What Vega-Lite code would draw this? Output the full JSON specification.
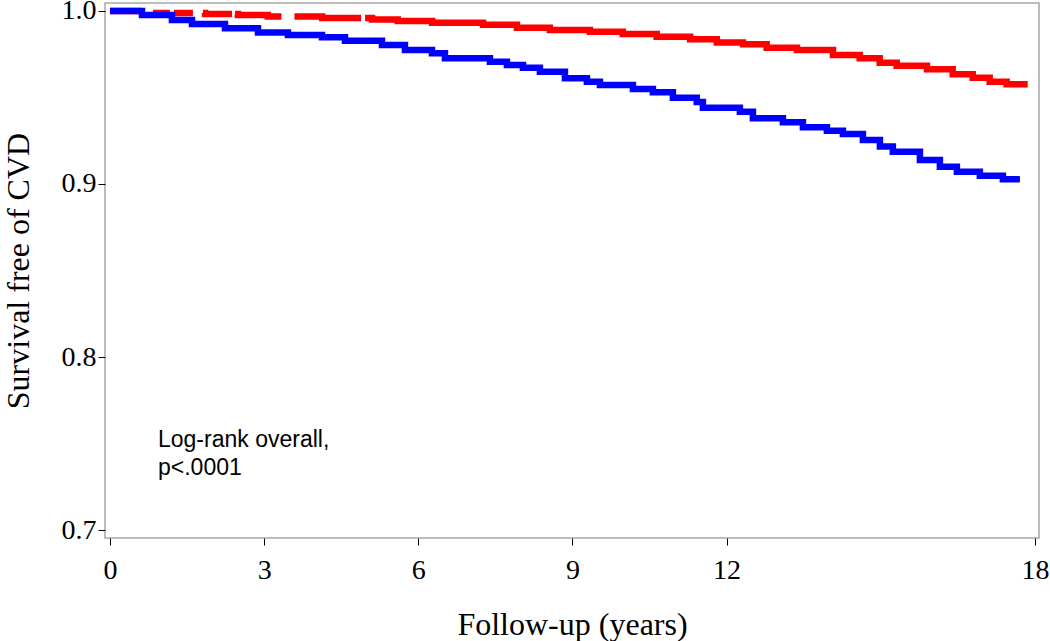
{
  "$schema": "https://vega.github.io/schema/vega-lite/v6.json",
  "autosize": "none",
  "width": 934,
  "height": 535,
  "padding": {"left": 105, "top": 3, "right": 11, "bottom": 103},
  "background": "white",
  "config": {
    "view": {"stroke": "#a6a6a6", "strokeWidth": 1.5},
    "axis": {
      "labelFont": "Liberation Serif",
      "titleFont": "Liberation Serif",
      "labelColor": "black",
      "titleColor": "black",
      "titleFontWeight": "normal",
      "labelFontSize": 28,
      "titleFontSize": 32,
      "tickColor": "black",
      "tickSize": 7,
      "domain": false,
      "grid": false
    }
  },
  "datasets": {
    "km": [
      {"group": "Group 2", "t": 0, "s": 1.0},
      {"group": "Group 2", "t": 0.78, "s": 0.9988},
      {"group": "Group 2", "t": 1.85, "s": 0.9983},
      {"group": "Group 2", "t": 2.49, "s": 0.9977},
      {"group": "Group 2", "t": 3.07, "s": 0.9968},
      {"group": "Group 2", "t": 4.13, "s": 0.996},
      {"group": "Group 2", "t": 5.1, "s": 0.9951},
      {"group": "Group 2", "t": 5.6, "s": 0.9942},
      {"group": "Group 2", "t": 6.27, "s": 0.9932},
      {"group": "Group 2", "t": 7.26, "s": 0.9921},
      {"group": "Group 2", "t": 7.92, "s": 0.9903},
      {"group": "Group 2", "t": 8.56, "s": 0.989},
      {"group": "Group 2", "t": 9.34, "s": 0.988},
      {"group": "Group 2", "t": 9.98, "s": 0.9867},
      {"group": "Group 2", "t": 10.64, "s": 0.9851},
      {"group": "Group 2", "t": 11.29, "s": 0.9836},
      {"group": "Group 2", "t": 11.81, "s": 0.9817},
      {"group": "Group 2", "t": 12.32, "s": 0.9808},
      {"group": "Group 2", "t": 12.78, "s": 0.9788},
      {"group": "Group 2", "t": 13.37, "s": 0.9775},
      {"group": "Group 2", "t": 14.07, "s": 0.9746},
      {"group": "Group 2", "t": 14.59, "s": 0.9727},
      {"group": "Group 2", "t": 14.98, "s": 0.9701},
      {"group": "Group 2", "t": 15.31, "s": 0.9684},
      {"group": "Group 2", "t": 15.9, "s": 0.9663},
      {"group": "Group 2", "t": 16.4, "s": 0.9634},
      {"group": "Group 2", "t": 16.79, "s": 0.9614},
      {"group": "Group 2", "t": 17.12, "s": 0.9591},
      {"group": "Group 2", "t": 17.45, "s": 0.9576},
      {"group": "Group 2", "t": 17.86, "s": 0.9576},
      {"group": "Group 1", "t": 0, "s": 1.0},
      {"group": "Group 1", "t": 0.623, "s": 0.9977},
      {"group": "Group 1", "t": 1.206, "s": 0.9948},
      {"group": "Group 1", "t": 1.596, "s": 0.9925},
      {"group": "Group 1", "t": 2.238, "s": 0.99},
      {"group": "Group 1", "t": 2.88, "s": 0.9875},
      {"group": "Group 1", "t": 3.464, "s": 0.9861},
      {"group": "Group 1", "t": 4.125, "s": 0.9848},
      {"group": "Group 1", "t": 4.573, "s": 0.9828},
      {"group": "Group 1", "t": 5.293, "s": 0.9803},
      {"group": "Group 1", "t": 5.74, "s": 0.9775},
      {"group": "Group 1", "t": 6.266, "s": 0.9755},
      {"group": "Group 1", "t": 6.519, "s": 0.9727},
      {"group": "Group 1", "t": 7.394, "s": 0.9707},
      {"group": "Group 1", "t": 7.725, "s": 0.9688},
      {"group": "Group 1", "t": 8.037, "s": 0.9672},
      {"group": "Group 1", "t": 8.367, "s": 0.9649},
      {"group": "Group 1", "t": 8.854, "s": 0.9611},
      {"group": "Group 1", "t": 9.282, "s": 0.9591},
      {"group": "Group 1", "t": 9.535, "s": 0.9572},
      {"group": "Group 1", "t": 10.177, "s": 0.9549},
      {"group": "Group 1", "t": 10.566, "s": 0.953},
      {"group": "Group 1", "t": 10.955, "s": 0.9499},
      {"group": "Group 1", "t": 11.42, "s": 0.9474},
      {"group": "Group 1", "t": 11.539, "s": 0.9441},
      {"group": "Group 1", "t": 12.259, "s": 0.9418},
      {"group": "Group 1", "t": 12.512, "s": 0.938},
      {"group": "Group 1", "t": 13.096, "s": 0.9357},
      {"group": "Group 1", "t": 13.485, "s": 0.9328},
      {"group": "Group 1", "t": 13.952, "s": 0.9308},
      {"group": "Group 1", "t": 14.264, "s": 0.9289},
      {"group": "Group 1", "t": 14.653, "s": 0.9254},
      {"group": "Group 1", "t": 14.984, "s": 0.9216},
      {"group": "Group 1", "t": 15.236, "s": 0.9187},
      {"group": "Group 1", "t": 15.762, "s": 0.9139},
      {"group": "Group 1", "t": 16.151, "s": 0.91},
      {"group": "Group 1", "t": 16.482, "s": 0.9071},
      {"group": "Group 1", "t": 16.929, "s": 0.9048},
      {"group": "Group 1", "t": 17.377, "s": 0.9027},
      {"group": "Group 1", "t": 17.708, "s": 0.9027}
    ],
    "notes": [
      {"t": 0.934, "s": 0.748, "label": "Log-rank overall,"},
      {"t": 0.934, "s": 0.7318, "label": "p<.0001"}
    ]
  },
  "layer": [
    {
      "data": {"name": "km"},
      "transform": [{"filter": "datum.group === 'Group 2'"}],
      "mark": {"type": "line", "interpolate": "step-after", "color": "#ff0000", "strokeWidth": 6.5, "strokeDash": [32, 13, 17, 4, 19, 10, 30, 3, 49, 13, 68, 4, 4000, 0]},
      "encoding": {
        "x": {"field": "t", "type": "quantitative", "scale": {"domain": [-0.097, 18.08], "nice": false, "zero": false},
          "axis": {"values": [0, 3, 6, 9, 12, 18], "title": "Follow-up (years)", "labelPadding": 11, "titlePadding": 25}},
        "y": {"field": "s", "type": "quantitative", "scale": {"domain": [0.6954, 1.0046], "nice": false, "zero": false},
          "axis": {"values": [0.7, 0.8, 0.9, 1.0], "format": ".1f", "title": "Survival free of CVD", "labelPadding": 2, "titlePadding": 26}}
      }
    },
    {
      "data": {"name": "km"},
      "transform": [{"filter": "datum.group === 'Group 1'"}],
      "mark": {"type": "line", "interpolate": "step-after", "color": "#0000ff", "strokeWidth": 6.5},
      "encoding": {
        "x": {"field": "t", "type": "quantitative"},
        "y": {"field": "s", "type": "quantitative"}
      }
    },
    {
      "data": {"name": "notes"},
      "mark": {"type": "text", "align": "left", "baseline": "alphabetic", "font": "Liberation Sans", "fontSize": 23, "color": "black"},
      "encoding": {
        "x": {"field": "t", "type": "quantitative"},
        "y": {"field": "s", "type": "quantitative"},
        "text": {"field": "label"}
      }
    }
  ]
}
